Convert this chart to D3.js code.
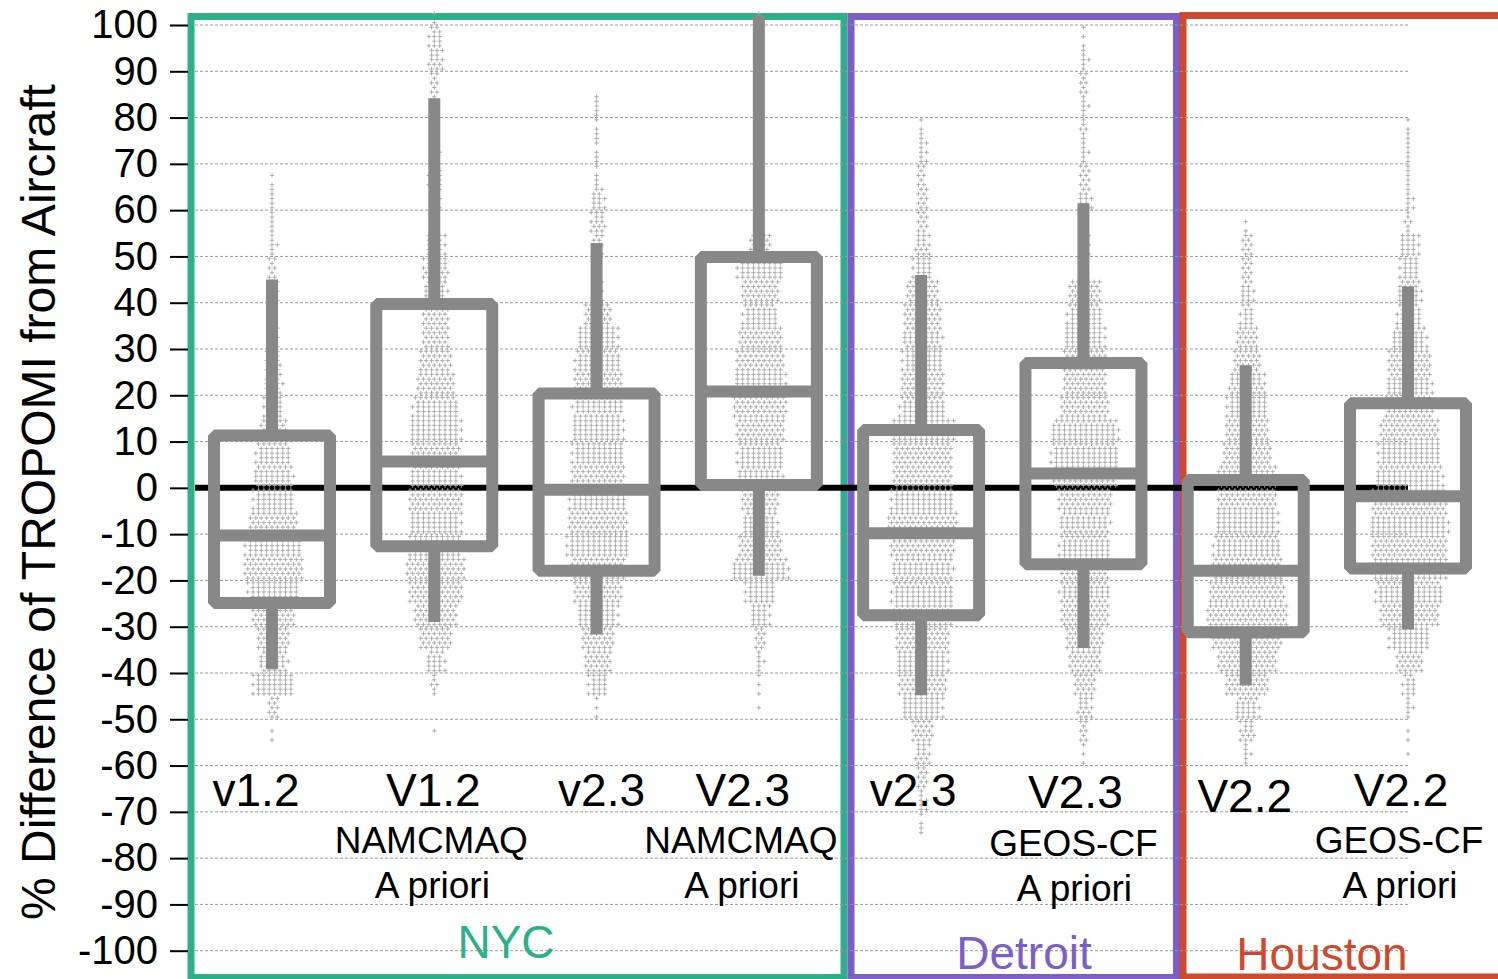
<!DOCTYPE html>
<html>
<head>
<meta charset="utf-8">
<script src="https://cdnjs.cloudflare.com/ajax/libs/d3/7.8.5/d3.min.js"></script>
<style>
body{margin:0;background:#fff;}
text{font-family:"Liberation Sans",Arial,Helvetica,sans-serif;}
</style>
</head>
<body>
<div id="chart"></div>
<script>
// ---- data ----
const groups = ["NYC v1.2","NYC V1.2 NAMCMAQ","NYC v2.3","NYC V2.3 NAMCMAQ","Detroit v2.3","Detroit V2.3 GEOS-CF","Houston V2.2","Houston V2.2 GEOS-CF"];
const labelMain = ["v1.2","V1.2","v2.3","V2.3","v2.3","V2.3","V2.2","V2.2"];
const labelModel = ["","NAMCMAQ","","NAMCMAQ","","GEOS-CF","","GEOS-CF"];
const labelPrior = ["","A priori","","A priori","","A priori","","A priori"];

const whiskerLow  = [-39.2,-29.0,-31.7,-19.0,-44.8,-34.6,-42.7,-30.6];
const q1          = [-24.9,-12.6,-17.9,  0.6,-27.5,-16.5,-31.2,-17.4];
const median      = [-10.3,  5.7, -0.4, 20.8, -9.8,  3.1,-17.9, -1.8];
const q3          = [ 11.3, 39.7, 20.4, 49.9, 12.5, 27.0,  1.7, 18.3];
const whiskerHigh = [ 45.0, 84.2, 52.9,102.0, 46.0, 61.5, 26.5, 43.5];

// number of points in each 5-unit bin, bins start at these values
const binLows = [-75,-70,-65,-60,-55,-50,-45,-40,-35,-30,-25,-20,-15,-10,-5,0,5,10,15,20,25,30,35,40,45,50,55,60,65,70,75,80,85,90,95,100];
const countsNycV12      = [0,0,0,0,2,10,38,26,30,40,48,55,52,45,38,36,32,25,18,16,14,10,8,8,8,6,5,5,2,0,0,0,0,0,0,0];
const countsNycV12Nam   = [0,0,0,0,1,0,6,17,30,40,50,55,48,48,50,47,45,48,42,35,30,25,25,22,24,18,8,10,12,6,2,3,8,14,12,2];
const countsNycV23      = [0,0,0,0,0,3,18,25,30,38,45,50,58,55,52,50,48,48,46,45,42,38,25,8,8,10,14,12,4,4,4,5,0,0,0,0];
const countsNycV23Nam   = [0,0,0,0,0,1,3,6,10,18,28,52,40,32,35,42,42,45,50,48,45,40,32,35,42,20,5,4,4,3,4,4,3,3,3,2];
const countsDetV23      = [4,7,10,14,20,38,45,48,50,55,57,56,60,65,58,55,55,58,42,40,38,36,35,30,18,14,10,10,8,8,4,0,0,0,0,0];
const countsDetV23Geos  = [0,0,0,3,8,14,20,30,35,45,46,45,47,46,50,60,62,62,45,40,40,38,32,30,8,8,8,12,10,6,6,6,8,6,3,0];
const countsHouV22      = [0,0,0,6,14,22,40,55,65,75,70,65,62,58,55,55,45,40,38,34,25,20,12,12,10,10,2,0,0,0,0,0,0,0,0,0];
const countsHouV22Geos  = [0,0,0,1,2,6,12,25,38,55,62,68,70,72,70,62,58,55,45,42,40,32,22,22,18,18,6,7,5,5,4,0,0,0,0,0];
const groupCounts = [countsNycV12,countsNycV12Nam,countsNycV23,countsNycV23Nam,countsDetV23,countsDetV23Geos,countsHouV22,countsHouV22Geos];

const yTicks = [100,90,80,70,60,50,40,30,20,10,0,-10,-20,-30,-40,-50,-60,-70,-80,-90,-100];
const cities = ["NYC","Detroit","Houston"];
const cityColors = ["#2bb08a","#7c5ec6","#cc4a2e"];

// ---- layout ----
const width = 1498, height = 979;
const svg = d3.select("#chart").append("svg")
    .attr("width", width)
    .attr("height", height);

const y = d3.scaleLinear().domain([-100, 100]).range([950.7, 25]);
const x = d3.scalePoint().domain(groups).range([272, 1408]);
const boxHalf = 58;
const gridX = [195, 1408];

// city frames (stroke centre edges)
const frames = [
    {l:191, r:844, t:16.5, b:977.5},
    {l:851, r:1176.5, t:16.5, b:977.5},
    {l:1183, r:1510, t:15.5, b:977}
];
svg.append("g").selectAll("rect").data(frames).enter().append("rect")
    .attr("x", d=>d.l)
    .attr("y", d=>d.t)
    .attr("width", d=>d.r-d.l)
    .attr("height", d=>d.b-d.t)
    .attr("fill","none")
    .attr("stroke",(d,i)=>cityColors[i])
    .attr("stroke-width",7);

// grid
svg.append("g").selectAll("line").data(yTicks).enter().append("line")
    .attr("x1", gridX[0]).attr("x2", gridX[1])
    .attr("y1", d=>y(d)).attr("y2", d=>y(d))
    .attr("stroke","#9a9a9a")
    .attr("stroke-width",1)
    .attr("stroke-dasharray","3,2");

// y axis
const axis = svg.append("g")
    .attr("transform","translate(188,0)")
    .call(d3.axisLeft(y).tickValues(yTicks).tickSize(18).tickPadding(12).tickFormat(d=>String(d)));
axis.select(".domain").remove();
axis.selectAll(".tick line").attr("stroke","#000").attr("stroke-width",2);
axis.selectAll(".tick text")
    .attr("font-size",40)
    .attr("fill","#000")
    .attr("font-family",'"Liberation Sans",Arial,sans-serif');

svg.append("text")
    .attr("transform","translate(55,502) rotate(-90)")
    .attr("text-anchor","middle")
    .attr("font-size",48)
    .text("% Difference of TROPOMI from Aircraft");

// zero line
svg.append("line")
    .attr("x1", gridX[0]).attr("x2", gridX[1])
    .attr("y1", y(0)).attr("y2", y(0))
    .attr("stroke","#000")
    .attr("stroke-width",6);

// swarm of points from binned counts
const rowsPerBin = 5, colGap = 5.4, binSize = 5;
const rowOrder = [2,0,4,1,3];
const pts = [];
groups.forEach((g,gi)=>{
    groupCounts[gi].forEach((n,bi)=>{
        for(let r=0;r<rowsPerBin;r++){
            const rank = rowOrder.indexOf(r);
            const m = Math.floor(n/rowsPerBin) + (rank < n%rowsPerBin ? 1 : 0);
            const v = binLows[bi] + (r+0.5)*binSize/rowsPerBin;
            const shift = (m>1 && (r+bi)%2) ? colGap/2 : 0;
            for(let i=0;i<m;i++){
                pts.push({g:g, v:v, dx:(i-(m-1)/2)*colGap + shift});
            }
        }
    });
});
svg.append("g").selectAll("path").data(pts).enter().append("path")
    .attr("transform", d=>"translate("+(x(d.g)+d.dx)+","+y(d.v)+")")
    .attr("d","M-2.2,0H2.2M0,-2.2V2.2")
    .attr("stroke","#a6a6a6")
    .attr("stroke-width",0.9)
    .attr("fill","none");

// boxes
const boxG = svg.append("g").attr("stroke","#888888").attr("fill","none");
boxG.selectAll(".wlo").data(groups).enter().append("line")
    .attr("x1",d=>x(d)).attr("x2",d=>x(d))
    .attr("y1",(d,i)=>y(q1[i])).attr("y2",(d,i)=>y(whiskerLow[i]))
    .attr("stroke-width",12);
boxG.selectAll(".whi").data(groups).enter().append("line")
    .attr("x1",d=>x(d)).attr("x2",d=>x(d))
    .attr("y1",(d,i)=>y(q3[i])).attr("y2",(d,i)=>y(whiskerHigh[i]))
    .attr("stroke-width",12);
boxG.selectAll("rect").data(groups).enter().append("rect")
    .attr("x",d=>x(d)-boxHalf)
    .attr("width",boxHalf*2)
    .attr("y",(d,i)=>y(q3[i]))
    .attr("height",(d,i)=>y(q1[i])-y(q3[i]))
    .attr("stroke-width",12)
    .attr("stroke-linejoin","bevel");
boxG.selectAll(".med").data(groups).enter().append("line")
    .attr("x1",d=>x(d)-boxHalf).attr("x2",d=>x(d)+boxHalf)
    .attr("y1",(d,i)=>y(median[i])).attr("y2",(d,i)=>y(median[i]))
    .attr("stroke-width",12);

// labels
const labelDx = [-16,-1,5,-16,-8,-8,-1,-7];
const mainBase = [806,806,806,806,806,808,812,806];
const subBase = [853,853,853,853,853,856,853,853];
const labels = svg.append("g").attr("text-anchor","middle").attr("fill","#000");
labels.selectAll(".lm").data(groups).enter().append("text")
    .attr("x",(d,i)=>x(d)+labelDx[i])
    .attr("y",(d,i)=>mainBase[i])
    .attr("font-size",46)
    .text((d,i)=>labelMain[i]);
labels.selectAll(".lmod").data(groups).enter().append("text")
    .attr("x",(d,i)=>x(d)+labelDx[i]-2)
    .attr("y",(d,i)=>subBase[i])
    .attr("font-size",37)
    .text((d,i)=>labelModel[i]);
labels.selectAll(".lpri").data(groups).enter().append("text")
    .attr("x",(d,i)=>x(d)+labelDx[i]-1)
    .attr("y",(d,i)=>subBase[i]+45)
    .attr("font-size",37)
    .text((d,i)=>labelPrior[i]);

const cityX = [506,1024,1322];
const cityBase = [958,969,970];
svg.append("g").selectAll("text").data(cities).enter().append("text")
    .attr("x",(d,i)=>cityX[i])
    .attr("y",(d,i)=>cityBase[i])
    .attr("text-anchor","middle")
    .attr("font-size",46)
    .attr("fill",(d,i)=>cityColors[i])
    .text(d=>d);
</script>
</body>
</html>
